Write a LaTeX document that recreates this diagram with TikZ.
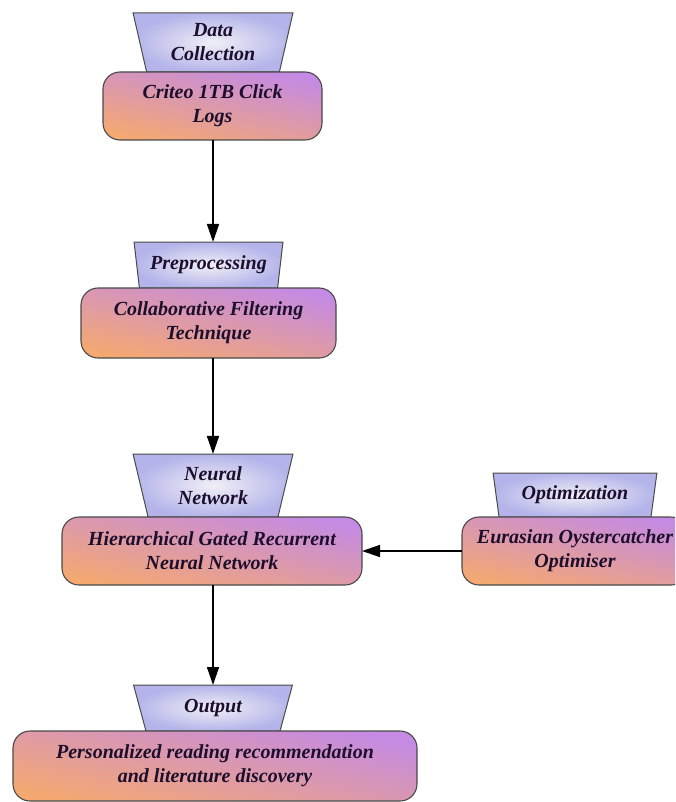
\documentclass[tikz,border=0pt]{standalone}
\usepackage{fontspec}
\setmainfont{Liberation Serif}
\usetikzlibrary{shapes.geometric,arrows.meta}
\definecolor{trapout}{HTML}{B4B4EA}
\definecolor{trapin}{HTML}{F0EFF6}
\definecolor{boxpurp}{HTML}{C48AE4}
\definecolor{boxmid}{HTML}{CF8ED8}
\definecolor{boxorng}{HTML}{F4A872}
\definecolor{edgegray}{HTML}{4A4A4A}
\definecolor{txt}{HTML}{1C0E2C}
\tikzset{
  lbl/.style={font=\fontsize{20}{24}\selectfont\bfseries\itshape, text=txt, align=center},
  trap/.style={lbl, trapezium, shape border rotate=180, trapezium stretches=true,
    draw=edgegray, line width=1pt, inner color=trapin, outer color=trapout,
    inner sep=0pt, outer sep=0pt},
  stage/.style={lbl, rectangle, rounded corners=17pt, draw=edgegray, line width=1.1pt,
    shading=axis, top color=boxpurp, middle color=boxmid, bottom color=boxorng, shading angle=-12,
    inner sep=0pt, outer sep=0pt},
  flow/.style={line width=1.5pt, -{Triangle[length=18pt,width=12pt]}}
}
\begin{document}
\begin{tikzpicture}[x=1pt,y=-1pt]
\clip (0,0) rectangle (675,802);
\fill[white] (0,0) rectangle (675,802);
% trapezia
\node[trap, minimum width=160pt, minimum height=59pt, trapezium left angle=77, trapezium right angle=77] (t1) at (213,42.5) {Data\\Collection};
\node[trap, minimum width=149pt, minimum height=46pt, trapezium left angle=76, trapezium right angle=76] (t2) at (208.5,265) {Preprocessing};
\node[trap, minimum width=160pt, minimum height=63pt, trapezium left angle=78, trapezium right angle=78] (t3) at (213,485.5) {Neural\\Network};
\node[trap, minimum width=164pt, minimum height=44pt, trapezium left angle=77, trapezium right angle=77] (t5) at (575,495) {Optimization};
\node[trap, minimum width=160pt, minimum height=46pt, trapezium left angle=73, trapezium right angle=73] (t4) at (213,708) {Output};
% stage boxes
\node[stage, minimum width=219pt, minimum height=68pt] (b1) at (212.5,106) {Criteo 1TB Click\\Logs};
\node[stage, minimum width=255pt, minimum height=70pt] (b2) at (208.5,323) {Collaborative Filtering\\Technique};
\node[stage, minimum width=300pt, minimum height=68pt] (b3) at (212,551) {Hierarchical Gated Recurrent\\Neural Network};
\node[stage, minimum width=226pt, minimum height=68pt] (b5) at (575,551) {Eurasian Oystercatcher\\Optimiser};
\node[stage, minimum width=404pt, minimum height=70pt] (b4) at (215,766) {Personalized reading recommendation\\and literature discovery};
% connectors
\coordinate (a1) at (213,0);
\draw[flow] (a1 |- b1.south) -- (a1 |- t2.north);
\draw[flow] (a1 |- b2.south) -- (a1 |- t3.north);
\draw[flow] (a1 |- b3.south) -- (a1 |- t4.north);
\draw[flow] (b5.west) -- (b3.east);
\end{tikzpicture}
\end{document}
